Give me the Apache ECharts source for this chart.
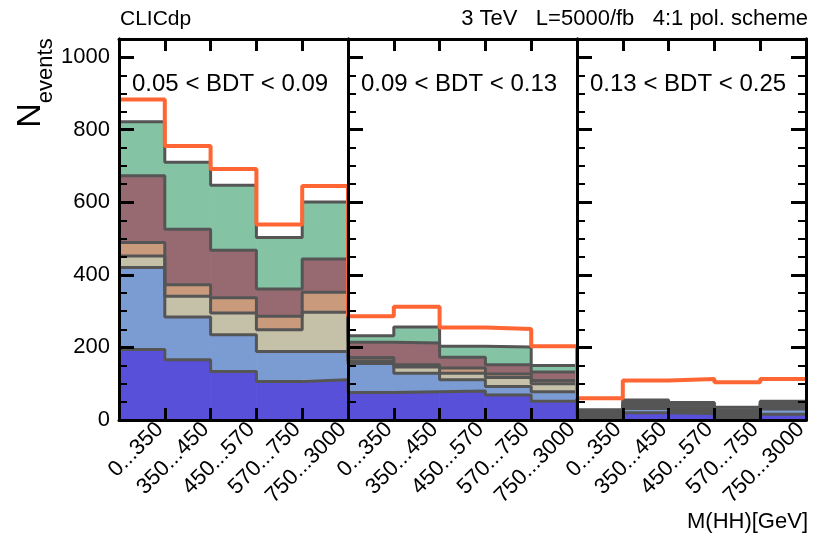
<!DOCTYPE html>
<html>
<head>
<meta charset="utf-8">
<script src="https://cdn.jsdelivr.net/npm/echarts@6/dist/echarts.min.js"></script>
<style>
  html, body { margin: 0; padding: 0; background: #fff; }
  #chart { width: 813px; height: 539px; }
</style>
</head>
<body>
<div id="chart"></div>
<script>
// Bin labels: three BDT regions, five M(HH) bins each
const massBins = ['0...350', '350...450', '450...570', '570...750', '750...3000'];
const categories = [].concat(massBins, massBins, massBins);
const bdtRegions = ['0.05 < BDT < 0.09', '0.09 < BDT < 0.13', '0.13 < BDT < 0.25'];

// Background contributions per bin (stacked, bottom to top)
const bkgBlue      = [194, 166, 134, 106, 111,   76, 78, 80, 69, 52,   6, 20, 18, 4, 16];
const bkgLightBlue = [226, 118, 101,  83,  78,   80, 51, 31, 23, 26,   4, 12,  4, 4, 14];
const bkgBeige     = [ 32,  57,  60,  60, 108,    7, 17, 18, 25, 22,   4,  6,  6, 6,  6];
const bkgSalmon    = [ 37,  32,  42,  37,  55,    9,  6, 14, 10,  9,   4,  5,  6, 7,  6];
const bkgMaroon    = [184, 153, 131,  75,  92,   42, 60, 30, 25, 23,   5,  6,  7, 7,  5];
const bkgGreen     = [149, 184, 179, 142, 157,   18, 44, 30, 49, 18,   5,  6,  7, 7,  5];
// HH signal on top of the background stack
const signal       = [ 61,  45,  45,  36,  44,   54, 56, 52, 50, 53,  32, 54, 65, 69, 61];

const yTicks = [0, 200, 400, 600, 800, 1000];

const layers = [
  { data: bkgBlue,      color: '#5850d8' },
  { data: bkgLightBlue, color: '#7b9bd3' },
  { data: bkgBeige,     color: '#c4c1a8' },
  { data: bkgSalmon,    color: '#c99a7c' },
  { data: bkgMaroon,    color: '#976a71' },
  { data: bkgGreen,     color: '#84c3a4' }
];

const FONT = '"Liberation Sans", Arial, Helvetica, sans-serif';
const nBins = categories.length;

// step outline through bin edges
function stepPoints(tops) {
  const pts = [];
  tops.forEach((v, i) => { pts.push([i, v]); pts.push([i + 1, v]); });
  return pts;
}

// filled bin: [binIndex, base, top]
function renderBin(params, api) {
  const i = api.value(0);
  const p0 = api.coord([i, api.value(1)]);
  const p1 = api.coord([i + 1, api.value(2)]);
  return {
    type: 'rect',
    shape: { x: p0[0] - 0.3, y: p1[1], width: p1[0] - p0[0] + 0.6, height: p0[1] - p1[1] },
    style: { fill: api.visual('color') }
  };
}

const series = [];
const cum = new Array(nBins).fill(0);
const outlines = [];
layers.forEach((layer) => {
  const items = layer.data.map((v, i) => [i, cum[i], cum[i] + v]);
  series.push({
    type: 'custom', xAxisIndex: 0, yAxisIndex: 0, silent: true, z: 2,
    renderItem: renderBin, itemStyle: { color: layer.color },
    encode: { x: 0, y: [1, 2] },
    data: items
  });
  layer.data.forEach((v, i) => { cum[i] += v; });
  outlines.push({
    type: 'line', xAxisIndex: 0, yAxisIndex: 0, silent: true, z: 3,
    symbol: 'none', lineStyle: { color: '#555555', width: 3 },
    data: stepPoints(cum.slice())
  });
});
series.push(...outlines);
series.push({
  type: 'line', xAxisIndex: 0, yAxisIndex: 0, silent: true, z: 4,
  symbol: 'none', lineStyle: { color: '#ff6633', width: 4 },
  data: stepPoints(cum.map((c, i) => c + signal[i]))
});

const YMAX = 1050;
function yPair(position, offset, withLabels) {
  const base = {
    type: 'value', min: 0, max: YMAX, interval: 50, position: position, offset: offset,
    z: 10, splitLine: { show: false },
    axisLine: { show: true, onZero: false, lineStyle: { color: '#000', width: 3 } }
  };
  const minor = Object.assign({}, base, {
    axisTick: { show: true, inside: true, length: 8, lineStyle: { color: '#000', width: 2 } },
    axisLabel: { show: false }
  });
  const major = Object.assign({}, base, {
    axisTick: { show: true, inside: true, length: 15, customValues: yTicks,
                lineStyle: { color: '#000', width: 3 } },
    axisLabel: withLabels
      ? { show: true, customValues: yTicks, margin: 9, color: '#000', fontSize: 22, fontFamily: FONT,
          formatter: (v) => String(v) }
      : { show: false }
  });
  return [minor, major];
}

const gridW = 813 - 119 - 7;
const panelW = gridW / 3;
// rotated bin labels end a little to the right of each bin centre
const labelShift = 0.39;

const option = {
  animation: false,
  backgroundColor: '#fff',
  grid: { left: 119, right: 7, top: 39, bottom: 119, outerBoundsMode: 'none', containLabel: false },
  xAxis: [
    {
      type: 'value', min: 0, max: nBins, interval: 1, position: 'bottom', z: 10,
      splitLine: { show: false },
      axisLine: { show: true, onZero: false, lineStyle: { color: '#000', width: 3 } },
      axisTick: { show: true, inside: true, length: 12, lineStyle: { color: '#000', width: 3 } },
      axisLabel: { show: false }
    },
    {
      type: 'value', min: 0, max: nBins, interval: 1, position: 'top', z: 10,
      splitLine: { show: false },
      axisLine: { show: true, onZero: false, lineStyle: { color: '#000', width: 3 } },
      axisTick: { show: true, inside: true, length: 12, lineStyle: { color: '#000', width: 3 } },
      axisLabel: { show: false }
    },
    {
      type: 'value', min: 0, max: nBins, position: 'bottom', z: 10,
      axisLine: { show: false, onZero: false }, axisTick: { show: false }, splitLine: { show: false },
      axisLabel: {
        customValues: categories.map((c, i) => i + 0.5 + labelShift),
        formatter: (v) => categories[Math.floor(v)],
        rotate: 45, align: 'right', verticalAlign: 'middle', margin: 6,
        hideOverlap: false, showMinLabel: true, showMaxLabel: true,
        color: '#000', fontSize: 22, fontFamily: FONT
      }
    }
  ],
  yAxis: [].concat(
    yPair('left', 0, true),
    yPair('left', -panelW, false),
    yPair('left', -2 * panelW, false),
    yPair('right', 0, false)
  ),
  graphic: [
    { type: 'text', x: 120, y: 19, style: { text: 'CLICdp', fill: '#000', font: '21px ' + FONT, verticalAlign: 'middle', align: 'left' } },
    { type: 'text', x: 808, y: 19, style: { text: '3 TeV   L=5000/fb   4:1 pol. scheme', fill: '#000', font: '22px ' + FONT, verticalAlign: 'middle', align: 'right' } },
    { type: 'text', x: 808, y: 522, style: { text: 'M(HH)[GeV]', fill: '#000', font: '22px ' + FONT, verticalAlign: 'middle', align: 'right' } },
    { type: 'text', x: 132, y: 84, style: { text: bdtRegions[0], fill: '#000', font: '24px ' + FONT, verticalAlign: 'middle', align: 'left' } },
    { type: 'text', x: 132 + panelW, y: 84, style: { text: bdtRegions[1], fill: '#000', font: '24px ' + FONT, verticalAlign: 'middle', align: 'left' } },
    { type: 'text', x: 132 + 2 * panelW, y: 84, style: { text: bdtRegions[2], fill: '#000', font: '24px ' + FONT, verticalAlign: 'middle', align: 'left' } },
    {
      type: 'text', x: 35, y: 83, rotation: Math.PI / 2,
      style: {
        text: '{n|N}{e|events}', fill: '#000', align: 'center', verticalAlign: 'middle',
        rich: {
          n: { fontSize: 34, fontFamily: FONT, verticalAlign: 'bottom', padding: [0, 0, 9, 0] },
          e: { fontSize: 22, fontFamily: FONT, verticalAlign: 'bottom' }
        }
      }
    }
  ],
  series: series
};

const chart = echarts.init(document.getElementById('chart'), null, { renderer: 'canvas' });
chart.setOption(option);
</script>
</body>
</html>
